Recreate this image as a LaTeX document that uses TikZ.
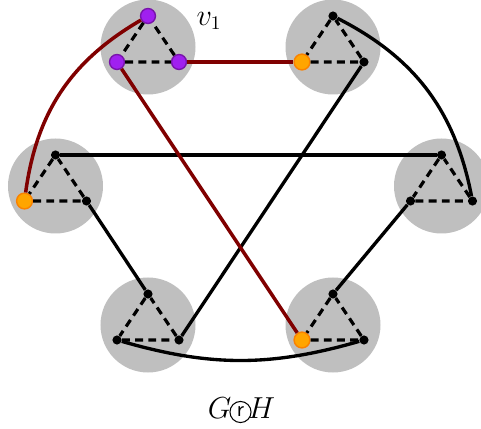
\documentclass[tikz,border=0pt]{standalone}
\definecolor{vpurple}{RGB}{160,32,240}
\definecolor{vpurpleline}{RGB}{120,20,170}
\definecolor{vorange}{RGB}{255,165,0}
\definecolor{vorangeline}{RGB}{250,130,0}
\definecolor{pathred}{RGB}{128,0,0}
\tikzset{
  blob/.style={circle,fill=black!25,minimum size=1.9cm,inner sep=0pt},
  vdot/.style={circle,fill=black,minimum size=5.2pt,inner sep=0pt},
  pdot/.style={circle,fill=vpurple,draw=vpurpleline,line width=0.8pt,minimum size=8.5pt,inner sep=0pt},
  odot/.style={circle,fill=vorange,draw=vorangeline,line width=0.8pt,minimum size=9pt,inner sep=0pt},
  tri/.style={line width=1.8pt,dash pattern=on 4.5pt off 3pt},
  edge/.style={line width=1.9pt,black},
  redpath/.style={line width=2pt,pathred},
  biglabel/.style={font=\fontsize{16}{18}\selectfont,inner sep=0pt}
}
\begin{document}
\begin{tikzpicture}
        \useasboundingbox (-4.81,-4.86) rectangle (4.81,3.72);
        % the six copies of H, one for each vertex of G
        \node[blob] (a) at (-1.85,2.78) {};
        \node[blob] (b) at (1.85,2.78) {};
        \node[blob] (c) at (-3.70,0) {};
        \node[blob] (d) at (4.02,0) {};
        \node[blob] (e) at (-1.85,-2.78) {};
        \node[blob] (f) at (1.85,-2.78) {};
        % vertices of each triangle
        \node[pdot] (at) at (-1.85,3.40) {};
        \node[pdot] (al) at (-2.47,2.48) {};
        \node[pdot] (ar) at (-1.23,2.48) {};
        \node[vdot] (bt) at (1.85,3.40) {};
        \node[odot] (bl) at (1.23,2.48) {};
        \node[vdot] (br) at (2.47,2.48) {};
        \node[vdot] (ct) at (-3.70,0.62) {};
        \node[odot] (cl) at (-4.32,-0.30) {};
        \node[vdot] (cr) at (-3.08,-0.30) {};
        \node[vdot] (dt) at (4.02,0.62) {};
        \node[vdot] (dl) at (3.40,-0.30) {};
        \node[vdot] (dr) at (4.64,-0.30) {};
        \node[vdot] (et) at (-1.85,-2.16) {};
        \node[vdot] (el) at (-2.47,-3.08) {};
        \node[vdot] (er) at (-1.23,-3.08) {};
        \node[vdot] (ft) at (1.85,-2.16) {};
        \node[odot] (fl) at (1.23,-3.08) {};
        \node[vdot] (fr) at (2.47,-3.08) {};
        % dashed triangles
        \draw[tri] (at)--(al)--(ar)--(at);
        \draw[tri] (bt)--(bl)--(br)--(bt);
        \draw[tri] (ct)--(cl)--(cr)--(ct);
        \draw[tri] (dt)--(dl)--(dr)--(dt);
        \draw[tri] (et)--(el)--(er)--(et);
        \draw[tri] (ft)--(fl)--(fr)--(ft);
        % edges between the copies
        \draw[edge] (bt) to[bend left=26] (dr);
        \draw[edge] (br) -- (er);
        \draw[edge] (ct) -- (dt);
        \draw[edge] (cr) -- (et);
        \draw[edge] (dl) -- (ft);
        \draw[edge] (el) to[bend right=16] (fr);
        \draw[redpath] (at) to[bend right=26] (cl);
        \draw[redpath] (ar) -- (bl);
        \draw[redpath] (al) -- (fl);
        % labels
        \node[biglabel] (vname) at (-0.63,3.30) {$v_1$};
        \node[biglabel] (gname) at (-0.42,-4.44) {$G$};
        \node[circle,draw,line width=0.6pt,minimum size=12pt,inner sep=0pt,font=\fontsize{12.5}{12}\sffamily] (rop) at (0,-4.52) {r};
        \node[biglabel] (hname) at (0.42,-4.44) {$H$};
    \end{tikzpicture}
\end{document}
